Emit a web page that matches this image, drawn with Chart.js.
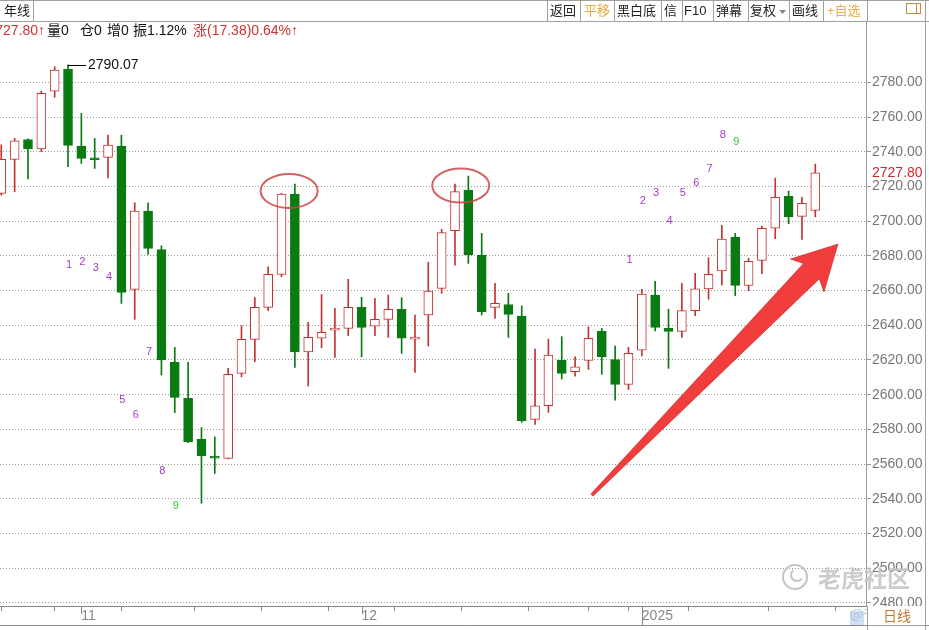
<!DOCTYPE html>
<html><head><meta charset="utf-8">
<script src="https://cdn.jsdelivr.net/npm/chart.js@4.4.1/dist/chart.umd.min.js"></script>
<style>html,body{margin:0;padding:0;background:#fff;overflow:hidden}canvas{display:block}</style>
</head><body>
<canvas id="c" width="929" height="630"></canvas>
<script>
// ---- data ----
const opens  = [2716,2735.6,2747.1,2741.7,2775,2787.5,2743.3,2735.8,2736.8,2743.3,2660.7,2705.8,2683.7,2618.6,2597.9,2574.2,2563.8,2563.3,2612.3,2631.9,2650.3,2669.3,2715.6,2624.7,2632.5,2637.2,2638.2,2650.3,2639.5,2643.4,2649.2,2632,2645.9,2661.3,2694.5,2717.9,2680.5,2650.3,2652,2645.3,2585.8,2593.6,2619.8,2613.2,2619.8,2636.7,2620.3,2605.9,2625.7,2657.4,2638.2,2636.5,2648.4,2661,2671.4,2690.7,2663,2677.4,2695.9,2714.3,2702.8,2706.2];
const highs  = [2744,2747.7,2747.5,2775,2789,2790.07,2762.1,2747.7,2749.6,2749.6,2710.6,2710.6,2685.8,2627.3,2618.6,2581,2575.7,2615.2,2639.7,2655.9,2673.7,2716,2721.4,2641.7,2657.8,2649.7,2666.5,2656.1,2655.5,2657.4,2655.9,2645.9,2676.3,2695.3,2721.4,2726,2693,2664.2,2658.4,2651.2,2626.3,2632,2633.4,2621.8,2639.1,2638.2,2628,2627.3,2660.7,2665.3,2649.3,2664.2,2669.9,2678.9,2697.6,2693,2678.6,2697.2,2724.8,2717.3,2713.7,2732.9];
const lows   = [2715,2717,2724.3,2740,2771.4,2731.4,2733.3,2730.4,2725,2652.6,2643.4,2680.9,2611.3,2589.6,2572.3,2537.4,2554.6,2563,2610.3,2619,2648.4,2668,2615.7,2605,2627,2621.5,2634,2621.8,2634,2633,2623.8,2612.8,2628,2658.4,2674.7,2675.7,2645.9,2644,2633,2584,2582.9,2589.8,2609,2610.7,2614.6,2611.7,2596.9,2603,2622.3,2636.8,2615.2,2633,2645.5,2655,2663.3,2657,2659.9,2669.7,2689.9,2698.5,2689.5,2702.5];
const closes = [2735.6,2746.3,2741.7,2773.7,2787.1,2743.7,2736.2,2735.4,2743.9,2659,2705.8,2684.3,2620,2598.4,2572.9,2564.8,2563.4,2611.7,2631.9,2650.3,2669.3,2715.6,2624.7,2633,2635.9,2637.2,2650.3,2638.8,2643.4,2649.2,2632.5,2632,2659.7,2693.5,2717,2680.5,2647.8,2652.6,2646.3,2585,2593.6,2622.8,2612.3,2616.1,2632.5,2621.8,2605.9,2623.8,2658,2638.8,2636.5,2648.4,2661,2669.3,2689.7,2663,2676.8,2695.9,2713.7,2702.5,2710.3,2727.8];

const yTicks = [2480,2500,2520,2540,2560,2580,2600,2620,2640,2660,2680,2700,2720,2740,2760,2780];
const xTickIdx = [2,6,12,17,22,27,32,37,42,46,48,55,60];
const monthIdx = [6,27,48];
const monthText = ['11','12','2025'];

const td1Idx = [5,6,7,8,9,10,11,12,13];
const td1Val = [2674.7,2676.5,2673,2667.8,2597,2588.3,2624.6,2556,2535.8];
const td2Idx = [47,48,49,50,51,52,53,54,55];
const td2Val = [2677.6,2711.8,2716.4,2700.1,2716,2721.8,2730.2,2749.8,2745.4];
const tdText = ['1','2','3','4','5','6','7','8','9'];

const highIdx = 5, highVal = 2790.07;
const lastPrice = 2727.80;
const circleIdx = [21.57, 34.43];
const circleVal = [2717.4, 2720.5];
const arrowFromIdx = 44.26, arrowFromVal = 2542.1;
const arrowToIdx = 62.70, arrowToVal = 2686.8;

// ---- styles ----
const RED = '#c23434', GREEN = '#0a7a12';
const isUp = closes.map((c,i)=> c >= opens[i]);
const idx = closes.map((_,i)=>i);

const FONT = '"Liberation Sans", Arial, "Noto Sans CJK SC", sans-serif';

const decor = {
  id:'decor',
  beforeDraw(chart){
    const ctx = chart.ctx;
    ctx.save(); ctx.fillStyle='#fff'; ctx.fillRect(0,0,chart.width,chart.height); ctx.restore();
  },
  afterDatasetsDraw(chart){
    const ctx = chart.ctx, xs = chart.scales.x, ys = chart.scales.y;
    ctx.save();
    // TD counts
    ctx.font = '11px ' + FONT; ctx.textAlign='center'; ctx.textBaseline='middle';
    [[td1Idx,td1Val],[td2Idx,td2Val]].forEach(([ix,vv])=>{
      ix.forEach((i,k)=>{
        ctx.fillStyle = k===8 ? '#3cc23c' : '#a43cc8';
        ctx.fillText(tdText[k], xs.getPixelForValue(i)+1, ys.getPixelForValue(vv[k]));
      });
    });
    // high label
    const hx = xs.getPixelForValue(highIdx), hy = Math.round(ys.getPixelForValue(highVal))+0.5;
    ctx.strokeStyle='#000'; ctx.lineWidth=1;
    ctx.beginPath(); ctx.moveTo(hx,hy); ctx.lineTo(hx+18,hy); ctx.stroke();
    ctx.fillStyle='#111'; ctx.font='14px '+FONT; ctx.textAlign='left'; ctx.textBaseline='middle';
    ctx.fillText(highVal.toFixed(2), hx+20, hy);
    // ellipses
    ctx.strokeStyle='rgba(205,70,70,0.85)'; ctx.lineWidth=2;
    circleIdx.forEach((ci,k)=>{
      ctx.beginPath();
      ctx.ellipse(xs.getPixelForValue(ci), ys.getPixelForValue(circleVal[k]), 28.5, 17, 0, 0, Math.PI*2);
      ctx.stroke();
    });
    // arrow
    const ax = xs.getPixelForValue(arrowFromIdx), ay = ys.getPixelForValue(arrowFromVal);
    const bx = xs.getPixelForValue(arrowToIdx), by = ys.getPixelForValue(arrowToVal);
    const L = Math.hypot(bx-ax, by-ay), dx=(bx-ax)/L, dy=(by-ay)/L, nx=-dy, ny=dx;
    const P=(u,v)=>[ax+dx*u+nx*v, ay+dy*u+ny*v];
    const pts=[P(0,1.5),P(L-38,11),P(L-44,23.5),P(L,0),P(L-44,-23.5),P(L-38,-11),P(0,-1.5)];
    ctx.beginPath(); pts.forEach((p,i)=> i?ctx.lineTo(p[0],p[1]):ctx.moveTo(p[0],p[1])); ctx.closePath();
    ctx.fillStyle='#f23d3d'; ctx.fill();
    ctx.strokeStyle='rgba(200,40,40,0.6)'; ctx.lineWidth=1; ctx.stroke();
    ctx.restore();
  },
  afterDraw(chart){
    const ctx = chart.ctx, xs = chart.scales.x, ys = chart.scales.y, W = chart.width;
    ctx.save();
    // top toolbar
    ctx.fillStyle='#fff'; ctx.fillRect(0,0,W,21);
    ctx.strokeStyle='#a0a0a0'; ctx.lineWidth=1;
    ctx.beginPath(); ctx.moveTo(0,0.5); ctx.lineTo(W,0.5); ctx.moveTo(0,21.5); ctx.lineTo(W,21.5); ctx.stroke();
    [33.5,547.5,580.5,614.5,661.5,682.5,713.5,748.5,789.5,823.5,867.5,925.5].forEach(x=>{
      ctx.beginPath(); ctx.moveTo(x,0); ctx.lineTo(x,21); ctx.stroke();
    });
    ctx.font='13px '+FONT; ctx.textBaseline='middle'; ctx.textAlign='left';
    const btn = [['年线',4,'#222'],['返回',550,'#222'],['平移',584,'#e8a838'],['黑白底',617,'#222'],['信',664,'#222'],['F10',684,'#222'],['弹幕',716,'#222'],['复权',750,'#222'],['画线',792,'#222'],['+自选',827,'#e8b048']];
    btn.forEach(b=>{ ctx.fillStyle=b[2]; ctx.fillText(b[0],b[1],11); });
    ctx.fillStyle='#888'; ctx.beginPath(); ctx.moveTo(779,10); ctx.lineTo(786,10); ctx.lineTo(782.5,14); ctx.closePath(); ctx.fill();
    ctx.strokeStyle='#c8883a'; ctx.strokeRect(906.5,3.5,14,10); ctx.beginPath(); ctx.moveTo(916.5,3.5); ctx.lineTo(916.5,13.5); ctx.stroke();
    // info row
    ctx.font='14px '+FONT; ctx.textBaseline='middle';
    ctx.fillStyle='#d03232'; ctx.textAlign='right'; ctx.fillText('2727.80↑',45,31);
    ctx.textAlign='left'; ctx.fillStyle='#111';
    ctx.fillText('量0',47,31); ctx.fillText('仓0',80,31); ctx.fillText('增0',107,31); ctx.fillText('振1.12%',133,31);
    ctx.fillStyle='#d03232'; ctx.fillText('涨(17.38)0.64%↑',193,31);
    // right border line
    ctx.strokeStyle='#a0a0a0';
    ctx.beginPath(); ctx.moveTo(925.5,21); ctx.lineTo(925.5,630); ctx.stroke();
    // last price
    ctx.fillStyle='#d02828'; ctx.font='14px '+FONT; ctx.textAlign='left';
    ctx.fillText(lastPrice.toFixed(2), 872, ys.getPixelForValue(lastPrice));
    // month/year tick lines
    ctx.strokeStyle='#888';
    monthIdx.forEach((m,k)=>{
      const x = Math.round(xs.getPixelForValue(m))+0.5;
      ctx.beginPath(); ctx.moveTo(x,606); ctx.lineTo(x, k===2?625:614); ctx.stroke();
    });
    ctx.beginPath(); ctx.moveTo(0,625.5); ctx.lineTo(W,625.5); ctx.stroke();
    // watermark
    ctx.strokeStyle='rgba(190,190,190,0.9)'; ctx.lineWidth=2;
    ctx.beginPath(); ctx.arc(795,577,12,0,Math.PI*2); ctx.stroke();
    ctx.beginPath(); ctx.arc(797,575,6,Math.PI*0.2,Math.PI*1.3); ctx.stroke();
    ctx.font='bold 23px "Noto Sans CJK SC", sans-serif'; ctx.fillStyle='rgba(195,195,195,0.85)';
    ctx.textAlign='left'; ctx.fillText('老虎社区',818,578);
    ctx.fillStyle='#cfe0f4'; ctx.fillRect(850,611,14,14);
    ctx.font='14px "Noto Sans CJK SC", sans-serif'; ctx.fillStyle='rgba(170,185,205,0.8)';
    ctx.fillText('@千曲线',850,614);
    // 日线 box
    ctx.fillStyle='#fff'; ctx.fillRect(868,606,57,19);
    ctx.strokeStyle='#a0a0a0'; ctx.lineWidth=1;
    ctx.beginPath(); ctx.moveTo(867.5,606); ctx.lineTo(867.5,630); ctx.moveTo(868,625.5); ctx.lineTo(926,625.5); ctx.stroke();
    ctx.fillStyle='#c07830'; ctx.font='14px "Noto Sans CJK SC", sans-serif'; ctx.textAlign='center';
    ctx.fillText('日线',897,616);
    ctx.restore();
  }
};

new Chart(document.getElementById('c'), {
  type:'bar',
  data:{ datasets:[
    { label:'wick', data: idx.map(i=>({x:i, y:[lows[i], highs[i]]})),
      backgroundColor: idx.map(i=> isUp[i]?RED:GREEN), borderWidth:0,
      barThickness:1, grouped:false, order:2 },
    { label:'body', data: idx.map(i=>({x:i, y:[opens[i], closes[i]]})),
      backgroundColor: idx.map(i=> isUp[i]?'#ffffff':GREEN),
      borderColor: idx.map(i=> isUp[i]?RED:GREEN), borderWidth:1, borderSkipped:false,
      barThickness:9, minBarLength:2, grouped:false, order:1 }
  ]},
  options:{
    responsive:false, animation:false, devicePixelRatio:1,
    layout:{ padding:{ top:22, left:0, right:0, bottom:0 } },
    plugins:{ legend:{display:false}, tooltip:{enabled:false} },
    scales:{
      x:{ type:'linear', min:-0.097, max:64.80, offset:false,
        afterBuildTicks(s){ s.ticks = xTickIdx.map(v=>({value:v})); },
        afterFit(s){ s.height = 24; },
        ticks:{ autoSkip:false, maxRotation:0, align:'start', color:'#888', padding:-3,
          font:{family:FONT, size:14},
          callback:(v)=>{ const k = monthIdx.indexOf(v); return k>=0 ? monthText[k] : ''; } },
        grid:{ drawOnChartArea:false, drawTicks:true, tickLength:5, color:'#888' },
        border:{ display:true, color:'#888' } },
      y:{ type:'linear', position:'right', min:2478.2, max:2814.8,
        afterBuildTicks(s){ s.ticks = yTicks.map(v=>({value:v})); },
        afterFit(s){ s.width = 63; },
        ticks:{ color:'#777', padding:1, font:{family:FONT, size:14}, callback:(v)=>Number(v).toFixed(2) },
        grid:{ color:'#9a9a9a', tickLength:5, drawTicks:true },
        border:{ display:true, color:'#999', dash:[1,2] } }
    }
  },
  plugins:[decor]
});
</script>
</body></html>
